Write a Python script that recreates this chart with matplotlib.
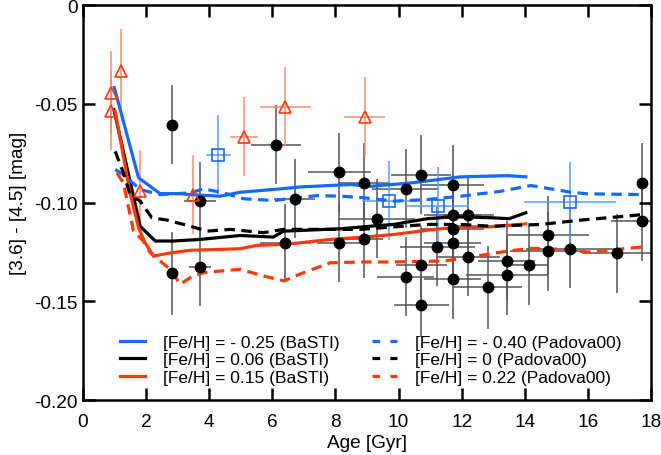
import matplotlib
matplotlib.use('Agg')
import matplotlib.pyplot as plt
from matplotlib.lines import Line2D

plt.rcParams['font.family'] = ['Liberation Sans', 'DejaVu Sans']

BLUE = '#1469ff'
RED = '#ff3a0a'

# Observed clusters (black filled circles)
black_age = [2.83, 2.83, 3.71, 3.71, 6.12, 6.71, 6.41, 8.12, 8.12, 8.91, 8.91, 9.32,
             10.22, 10.72, 11.72, 11.72, 12.21, 11.72, 11.72, 11.23, 12.21, 10.72,
             10.22, 11.72, 12.82, 10.72, 13.43, 13.43, 14.13, 14.72, 14.72, 15.43,
             16.92, 17.72, 17.72]
black_col = [-0.0606, -0.1359, -0.0993, -0.1326, -0.0707, -0.0982, -0.1205, -0.0848,
             -0.1205, -0.0901, -0.1183, -0.1082, -0.0931, -0.0860, -0.0909, -0.1062,
             -0.1064, -0.1133, -0.1207, -0.1224, -0.1274, -0.1318, -0.1377, -0.1389,
             -0.1428, -0.1520, -0.1296, -0.1369, -0.1318, -0.1165, -0.1246, -0.1234,
             -0.1258, -0.0901, -0.1094]
black_xerr = [0, 0, 0.5, 0.35, 0.8, 0.65, 0.8, 1.0, 0.7, 0.8, 0.6, 1.2, 1.05, 0.95,
              1.0, 0.9, 0.8, 1.0, 0.9, 1.2, 1.0, 0.8, 0.9, 0.9, 1.1, 0.87, 0.9, 1.3,
              0.6, 1.3, 1.2, 1.4, 1.1, 0, 1.0]
black_yerr = [0.02, 0.021, 0.02, 0.02, 0.02, 0.02, 0.02, 0.02, 0.02, 0.02, 0.02, 0.02,
              0.02, 0.02, 0.02, 0.02, 0.02, 0.02, 0.02, 0.02, 0.02, 0.02, 0.02, 0.02,
              0.021, 0.016, 0.02, 0.02, 0.02, 0.02, 0.02, 0.02, 0.02, 0.02, 0.02]

# Red open triangles
tri_age = [0.89, 0.89, 1.2, 1.81, 3.49, 5.11, 6.41, 8.92]
tri_col = [-0.0444, -0.0535, -0.0333, -0.0944, -0.096, -0.0667, -0.0515, -0.0566]
tri_xerr = [0, 0, 0, 0, 0, 0.45, 0.8, 0.65]
tri_yerr = [0.021, 0.02, 0.021, 0.021, 0.02, 0.02, 0.02, 0.02]

# Blue open squares
sq_age = [4.29, 9.71, 11.24, 15.43]
sq_col = [-0.0758, -0.099, -0.102, -0.0995]
sq_xerr = [0.4, 0.87, 1.0, 1.45]
sq_yerr = [0.02, 0.02, 0.02, 0.02]

# Model tracks
blue_basti_age = [0.99, 1.76, 2.44, 3.08, 3.40, 4.35, 4.98, 6.25, 6.89, 8.48, 9.11,
                  10.38, 11.97, 13.45, 14.03]
blue_basti_col = [-0.0418, -0.0875, -0.0955, -0.0955, -0.096, -0.0968, -0.0948,
                  -0.0931, -0.0921, -0.0909, -0.0918, -0.0901, -0.087, -0.0864, -0.087]
black_basti_age = [0.98, 1.81, 2.29, 2.86, 3.71, 4.98, 6.03, 6.35, 8.16, 9.11, 9.84,
                   10.91, 11.75, 12.92, 13.5, 14.03]
black_basti_col = [-0.053, -0.112, -0.1195, -0.1195, -0.1187, -0.1167, -0.1175,
                   -0.1145, -0.1133, -0.112, -0.1111, -0.1082, -0.1072, -0.1077,
                   -0.1082, -0.1052]
red_basti_age = [1.02, 1.49, 1.76, 1.97, 2.23, 2.5, 2.82, 3.4, 4.98, 5.51, 6.41, 7.84,
                 8.9, 9.85, 10.91, 11.97, 12.92, 14.03]
red_basti_col = [-0.0539, -0.0951, -0.1128, -0.1204, -0.1271, -0.1263, -0.1254,
                 -0.1242, -0.1234, -0.1217, -0.1212, -0.1187, -0.1175, -0.1162,
                 -0.114, -0.1123, -0.1123, -0.1108]
blue_pad_age = [1.02, 1.28, 1.81, 2.44, 3.4, 3.82, 4.45, 5.09, 6.04, 6.78, 7.42, 8.16,
                8.9, 9.85, 10.91, 11.97, 13.24, 14.19, 15.46, 15.99, 17.79]
blue_pad_col = [-0.0833, -0.0859, -0.0934, -0.096, -0.0951, -0.0931, -0.0951, -0.0981,
                -0.099, -0.0976, -0.0965, -0.0968, -0.0976, -0.0993, -0.0985, -0.0968,
                -0.0943, -0.0914, -0.0948, -0.0956, -0.096]
black_pad_age = [1.02, 1.28, 1.49, 1.81, 2.18, 2.66, 3.4, 3.93, 4.67, 5.72, 6.36, 7.42,
                 8.79, 10.91, 11.97, 12.92, 14.51, 15.78, 16.63, 17.74]
black_pad_col = [-0.0741, -0.085, -0.096, -0.0993, -0.1077, -0.1089, -0.112, -0.1145,
                 -0.1136, -0.1153, -0.1136, -0.1136, -0.1136, -0.1111, -0.1111, -0.112,
                 -0.1111, -0.1089, -0.1077, -0.1061]
red_pad_age = [1.07, 1.28, 1.39, 1.6, 1.91, 2.13, 2.44, 2.76, 3.08, 3.4, 3.82, 4.98,
               5.72, 6.36, 6.99, 7.84, 8.9, 9.85, 11.44, 12.29, 13.45, 14.19, 15.25,
               15.99, 16.94, 17.79]
red_pad_col = [-0.085, -0.09, -0.0985, -0.1145, -0.1195, -0.1254, -0.1296, -0.1338,
               -0.1414, -0.138, -0.1355, -0.1338, -0.1372, -0.1397, -0.1355, -0.1305,
               -0.1301, -0.1301, -0.1296, -0.1276, -0.1246, -0.1232, -0.1237, -0.1251,
               -0.1237, -0.1224]

labels = ['[Fe/H] = - 0.25 (BaSTI)', '[Fe/H] = 0.06 (BaSTI)', '[Fe/H] = 0.15 (BaSTI)',
          '[Fe/H] = - 0.40 (Padova00)', '[Fe/H] = 0 (Padova00)', '[Fe/H] = 0.22 (Padova00)']

fig = plt.figure(figsize=(6.61, 4.56), dpi=100)
ax = fig.add_axes([0.1256, 0.1206, 0.8594, 0.8662])

# error bars first, lines on top, markers on top of everything
ax.errorbar(black_age, black_col, xerr=black_xerr, yerr=black_yerr, fmt='none',
            ecolor='#555555', elinewidth=1.1, zorder=1)
ax.errorbar(tri_age, tri_col, xerr=tri_xerr, yerr=tri_yerr, fmt='none',
            ecolor='#ff8a70', elinewidth=1.1, zorder=1)
ax.errorbar(sq_age, sq_col, xerr=sq_xerr, yerr=sq_yerr, fmt='none',
            ecolor='#5a9bff', elinewidth=1.1, zorder=1)

dash = (3.3, 2.0)
lw = 2.3
ax.plot(blue_basti_age, blue_basti_col, color=BLUE, lw=lw, zorder=2)
ax.plot(black_basti_age, black_basti_col, color='black', lw=lw, zorder=2)
ax.plot(red_basti_age, red_basti_col, color=RED, lw=lw, zorder=2)
ax.plot(blue_pad_age, blue_pad_col, color=BLUE, lw=lw, dashes=dash, zorder=2)
ax.plot(black_pad_age, black_pad_col, color='black', lw=lw, dashes=dash, zorder=2)
ax.plot(red_pad_age, red_pad_col, color=RED, lw=lw, dashes=dash, zorder=2)

ax.plot(black_age, black_col, 'o', color='black', ms=7.5, zorder=3)
ax.plot(tri_age, tri_col, '^', mfc='none', mec=RED, mew=1.2, ms=8.5, zorder=3)
ax.plot(sq_age, sq_col, 's', mfc='none', mec=BLUE, mew=1.2, ms=8, zorder=3)

handles = [Line2D([], [], color=BLUE, lw=lw),
           Line2D([], [], color='black', lw=lw),
           Line2D([], [], color=RED, lw=lw),
           Line2D([], [], color=BLUE, lw=lw, dashes=(2.4, 3.2)),
           Line2D([], [], color='black', lw=lw, dashes=(2.4, 3.2)),
           Line2D([], [], color=RED, lw=lw, dashes=(2.4, 3.2))]
ax.legend(handles, labels, ncol=2, frameon=False, fontsize=12.5, loc='lower left',
          bbox_to_anchor=(0.052, 0.02), handlelength=1.45, handletextpad=1.05,
          columnspacing=1.85, labelspacing=0.15, borderaxespad=0)

ax.set_xlim(0, 18)
ax.set_ylim(-0.20, 0)
ax.set_xticks(range(0, 19, 2))
ax.set_yticks([-0.20, -0.15, -0.10, -0.05, 0])
ax.set_yticklabels(['-0.20', '-0.15', '-0.10', '-0.05', '0'])
ax.tick_params(direction='in', length=8.5, width=1.8, labelsize=13.7, top=True, right=True)
ax.tick_params(axis='x', pad=9)
ax.tick_params(axis='y', pad=4)
for s in ax.spines.values():
    s.set_linewidth(1.8)

ax.set_xlabel('Age [Gyr]', fontsize=13.7, labelpad=3)
ax.set_ylabel('[3.6] - [4.5] [mag]', fontsize=13.7, labelpad=5)

fig.savefig('out.png', dpi=100)
